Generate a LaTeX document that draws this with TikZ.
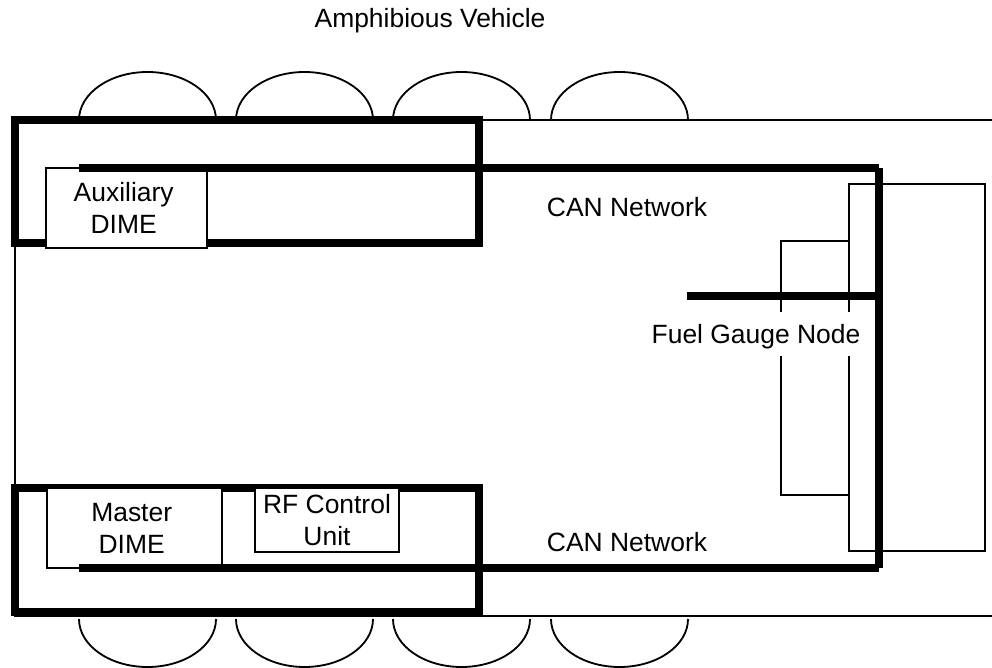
\documentclass[tikz,border=0pt]{standalone}
\usepackage{fontspec}
\setmainfont{Liberation Sans}
\usepackage{xcolor}
\usetikzlibrary{positioning}
\tikzset{
  hullline/.style={draw=black,line width=1.3pt},
  canline/.style={draw=black,line width=5.7pt},
  dimebox/.style={draw=black,fill=white,line width=1.3pt,align=center,
                  inner sep=0pt,font=\fontsize{18.8}{22.7}\selectfont},
  caption/.style={inner sep=0pt,font=\fontsize{18.8}{22.7}\selectfont}
}

\begin{document}
\begin{tikzpicture}[x=0.025cm,y=-0.025cm]
    \useasboundingbox (0,0) rectangle (992,668);
    % vehicle body
    \draw[hullline] (992,120) -- (15,120) -- (15,616) -- (992,616);
    % wheels
    \foreach \wheelx in {79,236,393,551} {
      \draw[hullline] (\wheelx,120) arc[start angle=180,end angle=360,x radius=68.5,y radius=48];
      \draw[hullline] (\wheelx,619) arc[start angle=180,end angle=0,x radius=68.5,y radius=48];
    }
    % CAN loops in front and rear
    \draw[canline] (15,120) rectangle (479,243);
    \draw[canline] (15,488) rectangle (479,612);
    % units
    \node[dimebox,minimum width=4.025cm,minimum height=2cm] (auxdime) at (126.5,208) {Auxiliary\kern4pt\\DIME\kern4pt};
    \node[dimebox,minimum width=4.375cm,minimum height=2cm] (masterdime) at (134.5,528) {Master\kern4pt\\DIME\kern4pt};
    \node[dimebox,minimum width=3.6cm,minimum height=1.6cm] (rfunit) at (327,520) {RF Control\\Unit};
    % fuel tank and gauge
    \node[draw=black,line width=1.3pt,minimum width=3.4cm,minimum height=9.175cm] (tank) at (917,367.5) {};
    \node[draw=black,line width=1.3pt,minimum width=1.7cm,minimum height=6.35cm] (gauge) at (815,368) {};
    \node[caption,fill=white,text depth=0pt,minimum height=1.1cm] (gaugelabel) at (756,334) {Fuel Gauge Node};
    % CAN bus
    \coordinate (busnw) at (79,168);
    \coordinate (busne) at (879,168);
    \coordinate (bussw) at (79,568);
    \coordinate (busse) at (879,568);
    \coordinate (busstub) at (687,296);
    \coordinate (busjoin) at (879,296);
    \draw[canline] (busnw) -- (busne);
    \draw[canline] (busne) -- (busse);
    \draw[canline] (bussw) -- (busse);
    \draw[canline] (busstub) -- (busjoin);
    % labels
    \node[caption] (title) at (430,21) {Amphibious Vehicle};
    \node[caption] (cantop) at (627,207) {CAN Network};
    \node[caption] (canbottom) at (627,542) {CAN Network};
\end{tikzpicture}
\end{document}
